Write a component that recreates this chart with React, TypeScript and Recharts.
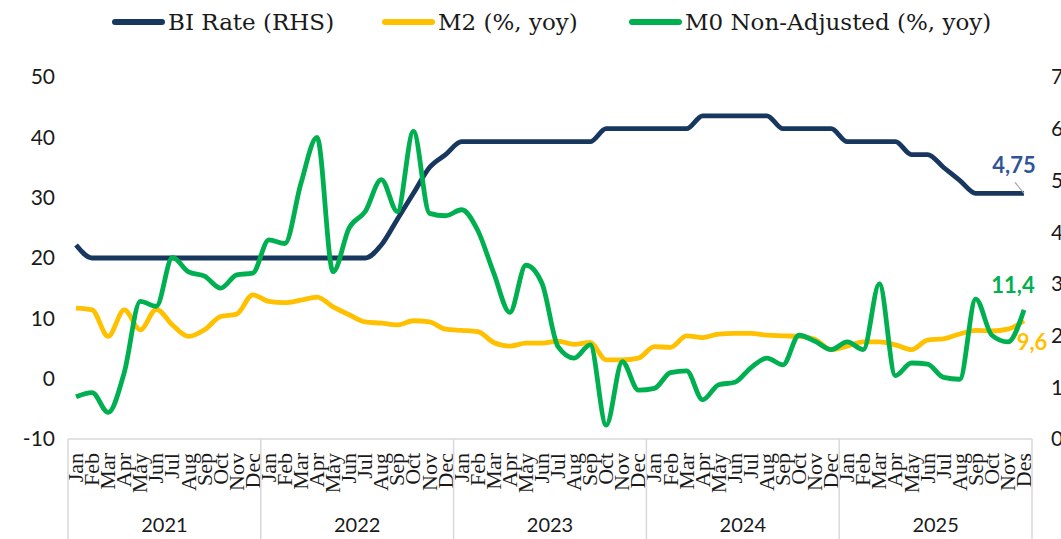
import React from "react"
import { ComposedChart, Line, XAxis, YAxis, LabelList } from "recharts"

const YEARS = ["2021", "2022", "2023", "2024", "2025"]
const MONTHS = ["Jan", "Feb", "Mar", "Apr", "May", "Jun", "Jul", "Aug", "Sep", "Oct", "Nov", "Dec"]
const MONTHS_LAST = ["Jan", "Feb", "Mar", "Apr", "May", "Jun", "Jul", "Aug", "Sep", "Oct", "Nov", "Des"]

// BI rate, % (right axis)
const BI_RATE = [
  3.75, 3.5, 3.5, 3.5, 3.5, 3.5, 3.5, 3.5, 3.5, 3.5, 3.5, 3.5,
  3.5, 3.5, 3.5, 3.5, 3.5, 3.5, 3.5, 3.75, 4.25, 4.75, 5.25, 5.5,
  5.75, 5.75, 5.75, 5.75, 5.75, 5.75, 5.75, 5.75, 5.75, 6.0, 6.0, 6.0,
  6.0, 6.0, 6.0, 6.25, 6.25, 6.25, 6.25, 6.25, 6.0, 6.0, 6.0, 6.0,
  5.75, 5.75, 5.75, 5.75, 5.5, 5.5, 5.25, 5.0, 4.75, 4.75, 4.75, 4.75,
]

// M2, % yoy
const M2 = [
  11.7, 11.4, 7.0, 11.4, 8.1, 11.5, 8.9, 7.0, 8.1, 10.3, 10.7, 13.9,
  12.8, 12.6, 13.0, 13.5, 11.9, 10.6, 9.4, 9.2, 8.9, 9.6, 9.4, 8.2,
  8.0, 7.8, 6.0, 5.4, 5.9, 5.9, 6.2, 5.7, 6.0, 3.1, 3.1, 3.4,
  5.3, 5.2, 7.1, 6.8, 7.4, 7.5, 7.5, 7.2, 7.1, 7.0, 6.5, 4.8,
  5.4, 6.1, 6.1, 5.6, 4.8, 6.4, 6.6, 7.4, 8.0, 7.9, 8.2, 9.6,
]

// M0 non-adjusted, % yoy
const M0 = [
  -3.0, -2.3, -5.6, 1.0, 12.8, 12.0, 20.1, 17.7, 17.0, 15.0, 17.2, 17.5,
  23.0, 22.4, 32.4, 40.0, 17.7, 25.0, 27.7, 33.0, 27.7, 41.0, 27.4, 27.0,
  28.0, 24.6, 17.5, 11.0, 18.8, 15.8, 5.3, 3.4, 5.6, -7.7, 2.8, -1.9,
  -1.6, 1.0, 1.3, -3.5, -1.0, -0.6, 1.8, 3.4, 2.3, 7.2, 6.2, 4.8,
  6.1, 4.8, 15.7, 0.5, 2.6, 2.4, 0.2, -0.1, 13.2, 7.2, 6.1, 11.4,
]

const LEFT_TICKS = [-10, 0, 10, 20, 30, 40, 50]
const RIGHT_TICKS = [0, 1, 2, 3, 4, 5, 6, 7]

const COL = {
  bi: "#17375E",
  biLabel: "#2F5597",
  m2: "#FFC000",
  m0: "#00B050",
  axis: "#D9D9D9",
  text: "#1a1a1a",
}

const SERIES = [
  { key: "bi", name: "BI Rate (RHS)", color: COL.bi, left: 112 },
  { key: "m2", name: "M2 (%, yoy)", color: COL.m2, left: 382 },
  { key: "m0", name: "M0 Non-Adjusted (%, yoy)", color: COL.m0, left: 629 },
]

const data = YEARS.flatMap((yr, yi) =>
  (yi === YEARS.length - 1 ? MONTHS_LAST : MONTHS).map((m, mi) => {
    const i = yi * 12 + mi
    return { key: `${yr}-${m}`, month: m, year: yr, bi: BI_RATE[i], m2: M2[i], m0: M0[i] }
  })
)

const W = 1061
const H = 539
const PLOT_L = 68
const PLOT_R = 1032
const AXIS_Y = 439
const BW = (PLOT_R - PLOT_L) / data.length
const FONT = "Lato, 'Noto Sans', sans-serif"
const SERIF = "'Liberation Serif', 'DejaVu Serif', serif"

function MonthTick(props: any) {
  const { x, payload } = props
  const i = payload.index
  const d = data[i]
  return (
    <g>
      <text
        transform={`translate(${x + 7},${453}) rotate(-90)`}
        textAnchor="end"
        fontFamily={SERIF}
        fontSize={22}
        fill={COL.text}
      >
        {d.month}
      </text>
      {i % 12 === 0 && <line x1={x - BW / 2} x2={x - BW / 2} y1={AXIS_Y} y2={H} stroke={COL.axis} strokeWidth={1.5} />}
      {i === data.length - 1 && <line x1={x + BW / 2} x2={x + BW / 2} y1={AXIS_Y} y2={H} stroke={COL.axis} strokeWidth={1.5} />}
      {i % 12 === 6 && (
        <text x={x - BW / 2} y={532} textAnchor="middle" fontFamily={FONT} fontSize={20} fill={COL.text}>
          {d.year}
        </text>
      )}
    </g>
  )
}

// end-of-line value labels
const endLabel = (fmt: (v: number) => string, color: string, dx: number, dy: number, leader = false) =>
  (props: any) => {
    const { x, y, value, index } = props
    if (index !== data.length - 1) return null
    return (
      <g>
        {leader && <line x1={x - 9} y1={y - 11} x2={x} y2={y} stroke="#A6A6A6" strokeWidth={1.2} />}
        <text x={x + dx} y={y + dy} textAnchor="middle" dominantBaseline="central" fontFamily={FONT} fontWeight={700} fontSize={22} fill={color}>
          {fmt(value)}
        </text>
      </g>
    )
  }

const comma = (d: number) => (v: number) => v.toFixed(d).replace(".", ",")

function Legend() {
  return (
    <>
      {SERIES.map((s) => (
        <div key={s.key} style={{ position: "absolute", left: s.left, top: 9, display: "flex", alignItems: "center", fontFamily: "'DejaVu Serif', serif", fontSize: 23, color: COL.text, whiteSpace: "nowrap" }}>
          <span style={{ display: "inline-block", width: 53, height: 6, borderRadius: 3, background: s.color, marginRight: 3 }} />
          <span>{s.name}</span>
        </div>
      ))}
    </>
  )
}

export default function App() {
  return (
    <div style={{ position: "absolute", left: 0, top: 0, width: W, height: H, background: "#fff", overflow: "hidden" }}>
      <Legend />
      <ComposedChart width={W} height={H} data={data} margin={{ top: 77, right: 0, bottom: 0, left: 0 }}>
        <XAxis
          dataKey="key"
          interval={0}
          height={H - AXIS_Y}
          padding={{ left: BW / 2, right: BW / 2 }}
          tickLine={false}
          axisLine={{ stroke: COL.axis, strokeWidth: 1.5 }}
          tick={<MonthTick />}
        />
        <YAxis
          yAxisId="left"
          domain={[-10, 50]}
          ticks={LEFT_TICKS}
          width={PLOT_L}
          axisLine={false}
          tickLine={false}
          tickSize={0}
          tickMargin={13}
          tick={{ fontFamily: FONT, fontSize: 21, fill: COL.text }}
        />
        <YAxis
          yAxisId="right"
          orientation="right"
          domain={[0, 7]}
          ticks={RIGHT_TICKS}
          width={W - PLOT_R}
          axisLine={false}
          tickLine={false}
          tickSize={0}
          tickMargin={19}
          tick={{ fontFamily: FONT, fontSize: 21, fill: COL.text, textAnchor: "start" }}
        />
        <Line yAxisId="right" dataKey="bi" name="BI Rate (RHS)" type="monotone" stroke={COL.bi} strokeWidth={4.8} dot={false} isAnimationActive={false}>
          <LabelList dataKey="bi" content={endLabel(comma(2), COL.biLabel, -10, -29, true)} />
        </Line>
        <Line yAxisId="left" dataKey="m2" name="M2 (%, yoy)" type="monotone" stroke={COL.m2} strokeWidth={4.8} dot={false} isAnimationActive={false}>
          <LabelList dataKey="m2" content={endLabel(comma(1), COL.m2, 8, 21)} />
        </Line>
        <Line yAxisId="left" dataKey="m0" name="M0 Non-Adjusted (%, yoy)" type="monotone" stroke={COL.m0} strokeWidth={4.8} dot={false} isAnimationActive={false}>
          <LabelList dataKey="m0" content={endLabel(comma(1), COL.m0, -11, -25)} />
        </Line>
      </ComposedChart>
    </div>
  )
}
